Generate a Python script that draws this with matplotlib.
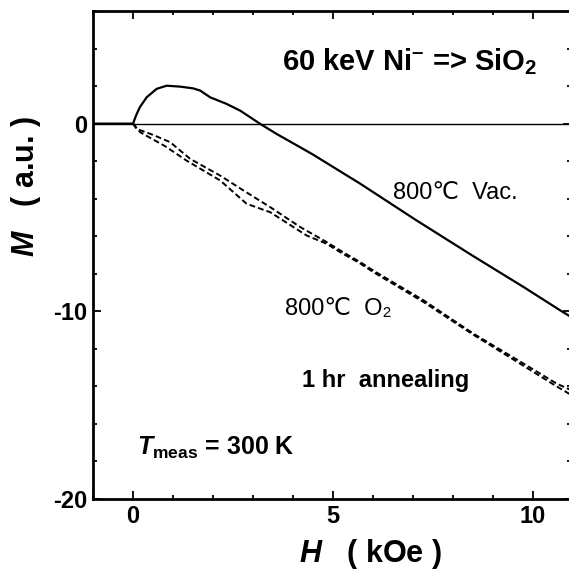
import matplotlib
matplotlib.use("Agg")
import matplotlib.pyplot as plt
from matplotlib.ticker import MultipleLocator

plt.rcParams['font.family'] = ['Liberation Sans', 'DejaVu Sans']
plt.rcParams['axes.unicode_minus'] = False
plt.rcParams['mathtext.fontset'] = 'custom'
plt.rcParams['mathtext.rm'] = 'Liberation Sans:bold'
plt.rcParams['mathtext.it'] = 'Liberation Sans:italic:bold'
plt.rcParams['mathtext.bf'] = 'Liberation Sans:bold'

# 800 C vacuum anneal (solid)
h_vac = [-1.0, 0.0, 0.08, 0.17, 0.34, 0.59, 0.84, 1.18, 1.5, 1.68, 1.93, 2.34, 2.68,
         3.17, 3.59, 4.18, 4.5, 5.68, 7.09, 8.5, 9.76, 10.68, 10.95]
m_vac = [0.0, 0.0, 0.45, 0.87, 1.4, 1.85, 2.02, 1.97, 1.88, 1.76, 1.4, 1.05, 0.69,
         0.0, -0.55, -1.26, -1.65, -3.2, -5.16, -7.05, -8.7, -9.95, -10.3]

# 800 C O2 anneal (two dashed branches)
h_o2_a = [0.0, 0.09, 0.5, 0.93, 1.43, 2.18, 2.76, 3.43, 4.18, 4.84, 5.18, 5.68, 6.0,
          7.26, 8.51, 9.76, 10.59, 10.95]
m_o2_a = [0.0, -0.28, -0.6, -0.99, -1.88, -2.77, -3.56, -4.45, -5.51, -6.31, -6.76,
          -7.38, -7.82, -9.41, -11.19, -12.78, -13.85, -14.2]
h_o2_b = [0.0, 0.18, 0.8, 1.34, 2.18, 2.84, 3.43, 4.34, 4.84, 5.18, 5.68, 6.0,
          7.26, 8.51, 9.76, 10.59, 10.95]
m_o2_b = [0.0, -0.46, -1.2, -1.97, -3.03, -4.27, -4.72, -5.96, -6.4, -6.85, -7.45,
          -7.9, -9.5, -11.25, -12.9, -14.0, -14.45]

x_ticks = [0, 5, 10]
y_ticks = [0, -10, -20]

fig = plt.figure(figsize=(5.69, 5.72), dpi=100)
ax = fig.add_axes([93 / 569, 73 / 572, 478 / 569, 488 / 572])

ax.axhline(0, color='black', linewidth=1.0)
ax.plot(h_vac, m_vac, color='black', linewidth=1.6)
ax.plot(h_o2_a, m_o2_a, color='black', linewidth=1.4, dashes=(3, 1.6))
ax.plot(h_o2_b, m_o2_b, color='black', linewidth=1.4, dashes=(3, 1.6))

ax.set_xlim(-1.0, 10.95)
ax.set_ylim(-20, 6)
ax.set_xticks(x_ticks)
ax.set_yticks(y_ticks)
ax.xaxis.set_minor_locator(MultipleLocator(1))
ax.yaxis.set_minor_locator(MultipleLocator(2))
ax.tick_params(which='both', direction='in', top=True, right=True, width=1.3)
ax.tick_params(which='major', length=6, labelsize=17, pad=4)
ax.tick_params(which='minor', length=3)
for lab in ax.get_xticklabels() + ax.get_yticklabels():
    lab.set_fontweight('bold')
for sp in ax.spines.values():
    sp.set_linewidth(2.0)

ax.set_xlabel(r'$\mathit{H}$   ( kOe )', fontsize=22, fontweight='bold')
ax.xaxis.set_label_coords(0.58, -0.078)
ax.set_ylabel(r'$\mathit{M}$   ( a.u. )', fontsize=22, fontweight='bold')
ax.yaxis.set_label_coords(-0.105, 0.64)

ax.text(3.73, 2.82, '60 keV Ni$^{\u2013}$ => SiO$_{2}$', fontsize=21, fontweight='bold',
        va='baseline', ha='left')
ax.text(6.5, -3.99, '800\u2103  Vac.', fontsize=17, va='baseline', ha='left')
ax.text(3.8, -10.2, '800\u2103  O\u2082', fontsize=17, va='baseline', ha='left')
ax.text(4.23, -14.03, '1 hr  annealing', fontsize=17, fontweight='bold',
        va='baseline', ha='left')
ax.text(0.1, -17.66, r'$\mathit{T}_{\mathrm{meas}}$ = 300 K', fontsize=18,
        fontweight='bold', va='baseline', ha='left')

fig.savefig('out.png', dpi=100)
plt.close(fig)
